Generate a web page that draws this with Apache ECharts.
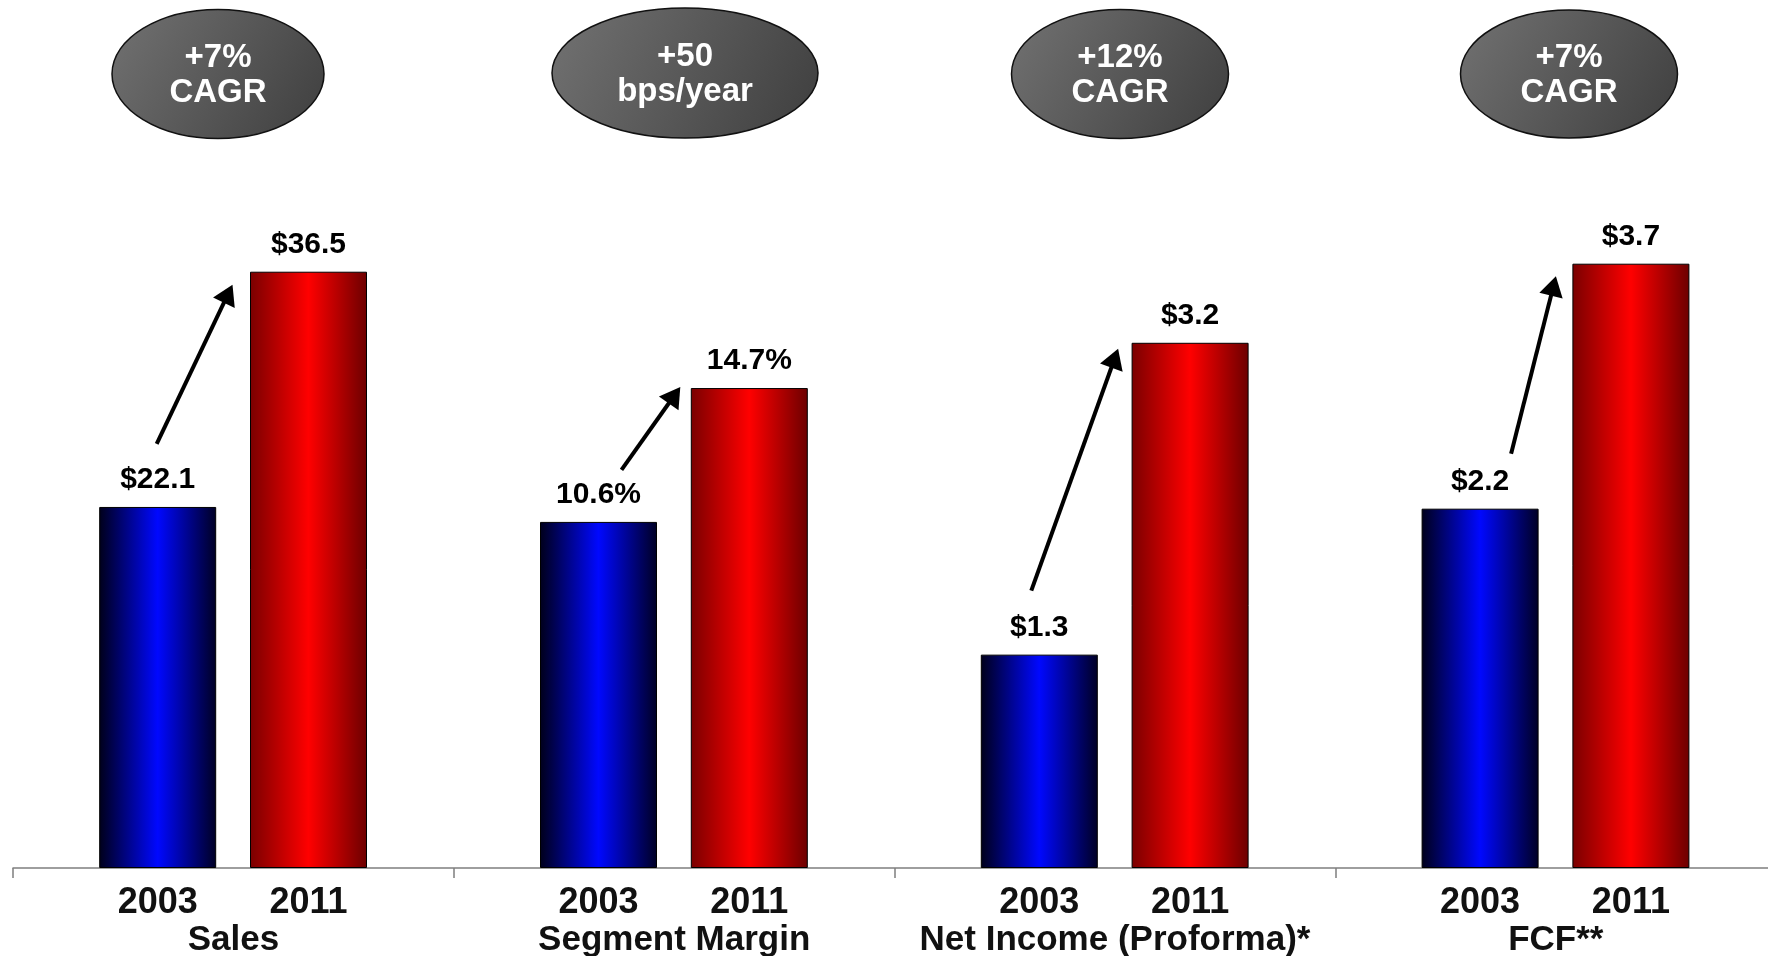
<!DOCTYPE html>
<html>
<head>
<meta charset="utf-8">
<script src="https://cdn.jsdelivr.net/npm/echarts@6/dist/echarts.min.js"></script>
<style>
  html, body { margin: 0; padding: 0; background: #ffffff; }
  #chart { width: 1768px; height: 956px; }
</style>
</head>
<body>
<div id="chart"></div>
<script>
// ---- data ----
const categories = ['Sales', 'Segment Margin', 'Net Income (Proforma)*', 'FCF**'];
const years = ['2003', '2011'];
const values2003 = [22.1, 10.6, 1.3, 2.2];
const values2011 = [36.5, 14.7, 3.2, 3.7];
const valueUnits = ['$', '%', '$', '$'];
const growthLabels = ['+7%\nCAGR', '+50\nbps/year', '+12%\nCAGR', '+7%\nCAGR'];

// ---- layout ----
const FONT = '"Liberation Sans", Arial, Helvetica, sans-serif';
const CHART_W = 1768;
const AXIS_LEFT = 13;          // start of the baseline
const SECTION_W = 440.8;       // width of one metric section
const BAR_GRID_OFFSET = 69.3;  // bar grid left edge inside a section
const BAR_GRID_W = 301.6;      // bar grid width (two bands)
const PLOT_TOP = 200;
const PLOT_BOTTOM = 88;
// each metric is drawn on its own value scale
const yMax = [40.89, 20.46, 4.07, 4.09];
const badgeCenters = [[218, 74], [685, 73], [1120, 74], [1569, 74]];
const badgeRadii = [[106, 64.5], [133, 65], [108.5, 64.5], [108.5, 64]];
// arrow start relative to the 2003 bar top, tip relative to the 2011 bar top
const arrowStart = [[-1, -63], [23, -52], [-8, -64], [31, -55]];
const arrowTip = [[-76, 13], [-69, -1], [-72, 6], [-75, 12.5]];

function fmt(v, unit) {
  return unit === '%' ? v.toFixed(1) + '%' : '$' + v.toFixed(1);
}

const blueFill = new echarts.graphic.LinearGradient(0, 0, 1, 0, [
  { offset: 0, color: '#00001a' },
  { offset: 0.5, color: '#0008ff' },
  { offset: 1, color: '#000024' }
]);
const redFill = new echarts.graphic.LinearGradient(0, 0, 1, 0, [
  { offset: 0, color: '#7a0000' },
  { offset: 0.5, color: '#ff0000' },
  { offset: 1, color: '#6c0000' }
]);

// the baseline runs a little past the right edge of the page
const grid = [{
  left: AXIS_LEFT, right: CHART_W - (AXIS_LEFT + SECTION_W * categories.length),
  top: PLOT_TOP, bottom: PLOT_BOTTOM,
  containLabel: false, outerBoundsMode: 'none'
}];
const xAxis = [{
  type: 'category', gridIndex: 0, data: categories, boundaryGap: true,
  axisLine: { show: true, lineStyle: { color: '#7f7f7f', width: 1.5 } },
  axisTick: { show: true, interval: 0, length: 10, lineStyle: { color: '#7f7f7f', width: 1.5 } },
  axisLabel: { interval: 0, hideOverlap: false, margin: 55, fontFamily: FONT, fontSize: 35,
               fontWeight: 'bold', color: '#111', lineHeight: 35 }
}];
const yAxis = [{ type: 'value', gridIndex: 0, show: false, min: 0, max: 1 }];
const series = [];

categories.forEach((cat, i) => {
  const g = i + 1;
  grid.push({
    left: AXIS_LEFT + i * SECTION_W + BAR_GRID_OFFSET, width: BAR_GRID_W,
    top: PLOT_TOP, bottom: PLOT_BOTTOM,
    containLabel: false, outerBoundsMode: 'none'
  });
  xAxis.push({
    type: 'category', gridIndex: g, data: years,
    axisLine: { show: false }, axisTick: { show: false },
    axisLabel: { interval: 0, margin: 17, fontFamily: FONT, fontSize: 36, fontWeight: 'bold',
                 color: '#111', lineHeight: 36 }
  });
  yAxis.push({ type: 'value', gridIndex: g, show: false, min: 0, max: yMax[i], splitLine: { show: false } });
  series.push({
    type: 'bar', name: cat, xAxisIndex: g, yAxisIndex: g,
    barWidth: 117,
    data: [
      { value: values2003[i], itemStyle: { color: blueFill } },
      { value: values2011[i], itemStyle: { color: redFill } }
    ],
    itemStyle: { borderColor: '#000', borderWidth: 1 },
    label: {
      show: true, position: 'top', distance: 12,
      fontFamily: FONT, fontSize: 30, fontWeight: 'bold', color: '#000',
      formatter: p => fmt(p.value, valueUnits[i])
    },
    emphasis: { disabled: true },
    animation: false
  });
});

const chart = echarts.init(document.getElementById('chart'), null, { renderer: 'canvas' });
chart.setOption({
  animation: false,
  backgroundColor: '#ffffff',
  grid, xAxis, yAxis, series
});

// ---- growth badges and arrows ----
function arrow(x0, y0, x1, y1) {
  const ang = Math.atan2(y1 - y0, x1 - x0);
  const L = 20, W = 12;
  const bx = x1 - L * Math.cos(ang), by = y1 - L * Math.sin(ang);
  const px = -Math.sin(ang), py = Math.cos(ang);
  return [
    { type: 'line', silent: true, z: 20,
      shape: { x1: x0, y1: y0, x2: bx + 2 * Math.cos(ang), y2: by + 2 * Math.sin(ang) },
      style: { stroke: '#000', lineWidth: 4 } },
    { type: 'polygon', silent: true, z: 20,
      shape: { points: [[x1, y1], [bx + px * W, by + py * W], [bx - px * W, by - py * W]] },
      style: { fill: '#000' } }
  ];
}

const graphic = [];
growthLabels.forEach((txt, i) => {
  const [cx, cy] = badgeCenters[i];
  const [rx, ry] = badgeRadii[i];
  graphic.push({
    type: 'ellipse', silent: true, z: 10,
    shape: { cx, cy, rx, ry },
    style: {
      fill: new echarts.graphic.LinearGradient(0, 0, 1, 1, [
        { offset: 0, color: '#727272' },
        { offset: 1, color: '#3e3e3e' }
      ]),
      stroke: '#111', lineWidth: 1.5
    }
  });
  graphic.push({
    type: 'text', silent: true, z: 11,
    x: cx, y: cy + 1.5,
    style: {
      text: txt, fill: '#ffffff', font: 'bold 33px ' + FONT,
      lineHeight: 35, align: 'center', verticalAlign: 'middle'
    }
  });
  const p0 = chart.convertToPixel({ gridIndex: i + 1 }, [years[0], values2003[i]]);
  const p1 = chart.convertToPixel({ gridIndex: i + 1 }, [years[1], values2011[i]]);
  graphic.push(...arrow(p0[0] + arrowStart[i][0], p0[1] + arrowStart[i][1],
                        p1[0] + arrowTip[i][0], p1[1] + arrowTip[i][1]));
});
chart.setOption({ graphic });
</script>
</body>
</html>
